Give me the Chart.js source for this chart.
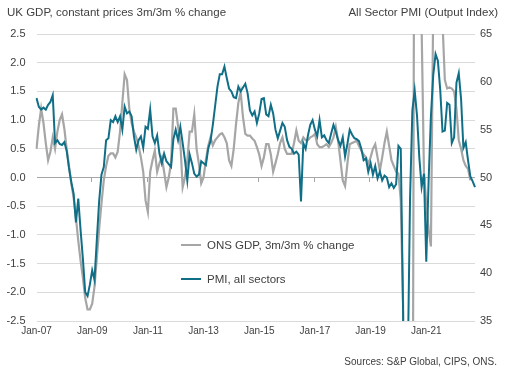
<!DOCTYPE html>
<html>
<head>
<meta charset="utf-8">
<script src="https://cdn.jsdelivr.net/npm/chart.js@4.4.1/dist/chart.umd.min.js"></script>
<style>
  body { margin: 0; background: #fff; font-family: "Liberation Sans", Arial, sans-serif; color: #404040; }
  #wrap { position: relative; width: 505px; height: 376px; }
  #wrap canvas { position: absolute; left: 0; top: 0; }
  .txt { position: absolute; white-space: nowrap; line-height: 14px; }
  .swatch { position: absolute; height: 0; width: 20px; }
</style>
</head>
<body>
<div id="wrap">
  <canvas id="chart" width="505" height="376"></canvas>
  <div class="txt" style="left:7px;top:5px;font-size:11.5px;">UK GDP, constant prices 3m/3m % change</div>
  <div class="txt" style="right:7px;top:5px;font-size:11.5px;">All Sector PMI (Output Index)</div>
  <div class="swatch" style="left:181px;top:244px;border-top:2px solid #a6a6a6;"></div>
  <div class="txt" style="left:207px;top:238px;font-size:11.5px;">ONS GDP, 3m/3m % change</div>
  <div class="swatch" style="left:181px;top:278px;border-top:2px solid #106f87;"></div>
  <div class="txt" style="left:207px;top:272px;font-size:11.5px;">PMI, all sectors</div>
  <div class="txt" style="right:8px;top:355px;font-size:10px;">Sources: S&amp;P Global, CIPS, ONS.</div>
</div>
<script>
  // Monthly, Jan-07 onwards
  var monthNames = ["Jan", "Feb", "Mar", "Apr", "May", "Jun", "Jul", "Aug", "Sep", "Oct", "Nov", "Dec"];
  var firstYear = 2007;
  var monthCount = 190; // Jan-07 .. Oct-22

  var months = [];
  for (var i = 0; i < monthCount; i++) {
    var yr = firstYear + Math.floor(i / 12);
    months.push(monthNames[i % 12] + "-" + String(yr).slice(2));
  }

  // ONS GDP, 3m/3m % change (to Aug-22)
  var gdp = [
    0.5, 0.9, 1.2, 0.95, 0.6, 0.3, 0.45, 0.7, 0.5, 0.8,
    1.0, 1.1, 0.85, 0.5, 0.2, -0.1, -0.35, -0.7, -1.1, -1.45,
    -1.75, -2.1, -2.3, -2.3, -2.2, -1.9, -1.4, -0.9, -0.45, -0.05,
    0.2, 0.38, 0.42, 0.42, 0.35, 0.45, 0.8, 1.3, 1.8, 1.7,
    1.2, 0.95, 0.8, 0.7, 0.55, 0.35, 0.1, -0.4, -0.6, 0.1,
    0.3, 0.47, 0.1, 0.25, 0.35, 0.1, -0.17, 0.0, 0.25, 1.2,
    1.2, 0.9, 0.6, -0.17, 0.0, 0.3, 0.8, 0.8, 1.1, 0.5,
    0.24, -0.1, 0.0, 0.3, 0.55, 0.7, 0.56, 0.65, 0.7, 0.75,
    0.77, 0.7, 0.6, 0.3, 0.2, 0.5, 0.93, 1.3, 1.49, 1.05,
    0.76, 0.73, 0.73, 0.68, 0.64, 0.53, 0.4, 0.2, 0.35, 0.58,
    0.58, 0.4, 0.1, 0.25, 0.41, 0.6, 0.7, 0.5, 0.41, 0.41,
    0.41, 0.6, 0.82, 0.64, 0.6, 0.7, 0.65, 0.65, 0.7, 0.72,
    0.76, 0.58, 0.53, 0.53, 0.55, 0.58, 0.53, 0.6, 0.7, 0.88,
    0.64, 0.3, -0.05, -0.15, 0.24, 0.58, 0.6, 0.62, 0.64, 0.55,
    0.47, 0.4, 0.35, 0.24, 0.35, 0.5, 0.58, 0.35, 0.12, 0.35,
    0.6, 0.8, 0.55, 0.3, 0.2, 0.1, 0.07, -0.4, -2.2, -10.4,
    -19.4, -19.0, -7.5, 8.0, 15.0, 10.0, 2.6, 0.1, -0.45, -0.9,
    -1.2, 3.0, 4.8, 5.5, 3.6, 2.7, 1.7, 1.55, 1.57, 1.55,
    1.5, 1.2, 0.65, 0.5, 0.3, 0.2, 0.15, -0.05
  ];

  // All sector PMI output index (to Oct-22)
  var pmi = [
    58.3, 57.4, 57.1, 57.3, 57.1, 57.6, 57.9, 58.6, 53.6, 53.9,
    53.5, 53.4, 53.7, 52.8, 51.0, 49.5, 48.3, 45.3, 47.8, 44.5,
    41.5, 38.0, 37.6, 38.8, 40.3, 39.3, 43.5, 47.5, 50.3, 51.1,
    53.9, 54.1, 56.0, 55.8, 56.4, 55.8, 56.4, 55.0, 57.4, 56.7,
    56.9, 56.4, 54.3, 52.9, 53.9, 54.3, 53.1, 55.3, 55.1, 57.1,
    54.3, 53.6, 54.4, 52.5, 51.5, 52.5, 51.7, 51.4, 51.1, 54.0,
    55.0, 53.9, 55.3, 53.6, 51.8, 49.7, 52.4, 51.5, 50.4, 50.1,
    50.3, 51.7, 51.5, 51.3, 53.0, 53.8, 55.5, 57.5, 59.5, 60.8,
    60.8, 61.6, 60.4, 59.3, 59.0, 58.4, 58.3, 59.5, 59.0, 59.4,
    59.8, 58.8, 57.0, 56.5, 56.9, 55.7, 56.7, 58.2, 58.3, 56.6,
    56.4, 57.6, 56.7, 55.0, 54.1, 54.9, 55.7, 55.3, 53.9, 53.2,
    53.0, 52.5, 52.7, 52.4, 47.5, 53.6, 53.0, 54.4, 55.5, 56.0,
    55.0, 54.3, 56.0, 54.2, 54.4, 53.9, 53.6, 54.6, 55.5, 54.8,
    53.9, 53.3, 54.2, 52.2, 53.5, 55.0, 54.5, 54.1, 54.0, 53.8,
    53.0, 51.8, 52.0, 50.6, 51.5, 50.3, 51.2, 49.9, 50.6, 49.7,
    50.2, 50.0, 49.0, 49.4, 48.9, 49.3, 53.3, 53.0, 36.0, 13.8,
    30.0, 47.7, 57.0, 59.1, 56.5, 52.1, 49.0, 50.4, 41.2, 49.6,
    56.4, 60.7, 62.9, 62.2, 59.2, 54.8, 54.9, 57.8, 57.6, 53.6,
    54.2, 59.9, 60.9, 58.2, 53.1, 53.7, 51.8, 50.1, 49.6, 49.0
  ];

  var labelEvery = 24; // Jan of odd years
  var axisFont = { family: "'Liberation Sans', Arial, sans-serif", size: 11 };

  // small tick marks on the zero line between Dec and Jan
  var zeroTicks = {
    id: "zeroTicks",
    afterDatasetsDraw: function (chart) {
      var x = chart.scales.x;
      var y0 = Math.round(chart.scales.y.getPixelForValue(0));
      var half = (x.getPixelForValue(1) - x.getPixelForValue(0)) / 2;
      var ctx = chart.ctx;
      ctx.save();
      ctx.strokeStyle = "#a6a6a6";
      ctx.lineWidth = 1;
      ctx.beginPath();
      for (var i = labelEvery; i < monthCount; i += labelEvery) {
        var px = Math.round(x.getPixelForValue(i) - half) + 0.5;
        ctx.moveTo(px, y0);
        ctx.lineTo(px, y0 + 4);
      }
      ctx.stroke();
      ctx.restore();
    }
  };

  new Chart(document.getElementById("chart"), {
    type: "line",
    data: {
      labels: months,
      datasets: [
        {
          label: "PMI, all sectors",
          data: pmi,
          yAxisID: "y1",
          borderColor: "#106f87",
          borderWidth: 2,
          pointRadius: 0,
          tension: 0,
          order: 0
        },
        {
          label: "ONS GDP, 3m/3m % change",
          data: gdp,
          yAxisID: "y",
          borderColor: "#a6a6a6",
          borderWidth: 2.2,
          pointRadius: 0,
          tension: 0,
          order: 1
        }
      ]
    },
    options: {
      responsive: false,
      animation: false,
      devicePixelRatio: 1,
      layout: { padding: { top: 34, left: 0, right: 0, bottom: 0 } },
      plugins: {
        legend: { display: false },
        tooltip: { enabled: false }
      },
      scales: {
        x: {
          type: "category",
          offset: false,
          grid: { display: false, drawTicks: false },
          border: { display: false },
          ticks: {
            autoSkip: false,
            maxRotation: 0,
            padding: 4,
            color: "#404040",
            font: { family: "'Liberation Sans', Arial, sans-serif", size: 10 },
            callback: function (value, index) {
              return index % labelEvery === 0 ? months[index] : "";
            }
          },
          afterFit: function (scale) { scale.height = 55; }
        },
        y: {
          position: "left",
          min: -2.5,
          max: 2.5,
          grid: {
            drawTicks: false,
            color: function (ctx) { return ctx.tick && ctx.tick.value === 0 ? "#a6a6a6" : "#dadada"; }
          },
          border: { display: false },
          ticks: {
            stepSize: 0.5,
            padding: 11,
            color: "#404040",
            font: axisFont,
            callback: function (v) { return v.toFixed(1); }
          },
          afterFit: function (scale) { scale.width = 36.5; }
        },
        y1: {
          position: "right",
          min: 35,
          max: 65,
          grid: { display: false, drawTicks: false },
          border: { display: false },
          ticks: {
            stepSize: 5,
            padding: 5,
            color: "#404040",
            font: axisFont
          },
          afterFit: function (scale) { scale.width = 30; }
        }
      }
    },
    plugins: [zeroTicks]
  });
</script>
</body>
</html>
